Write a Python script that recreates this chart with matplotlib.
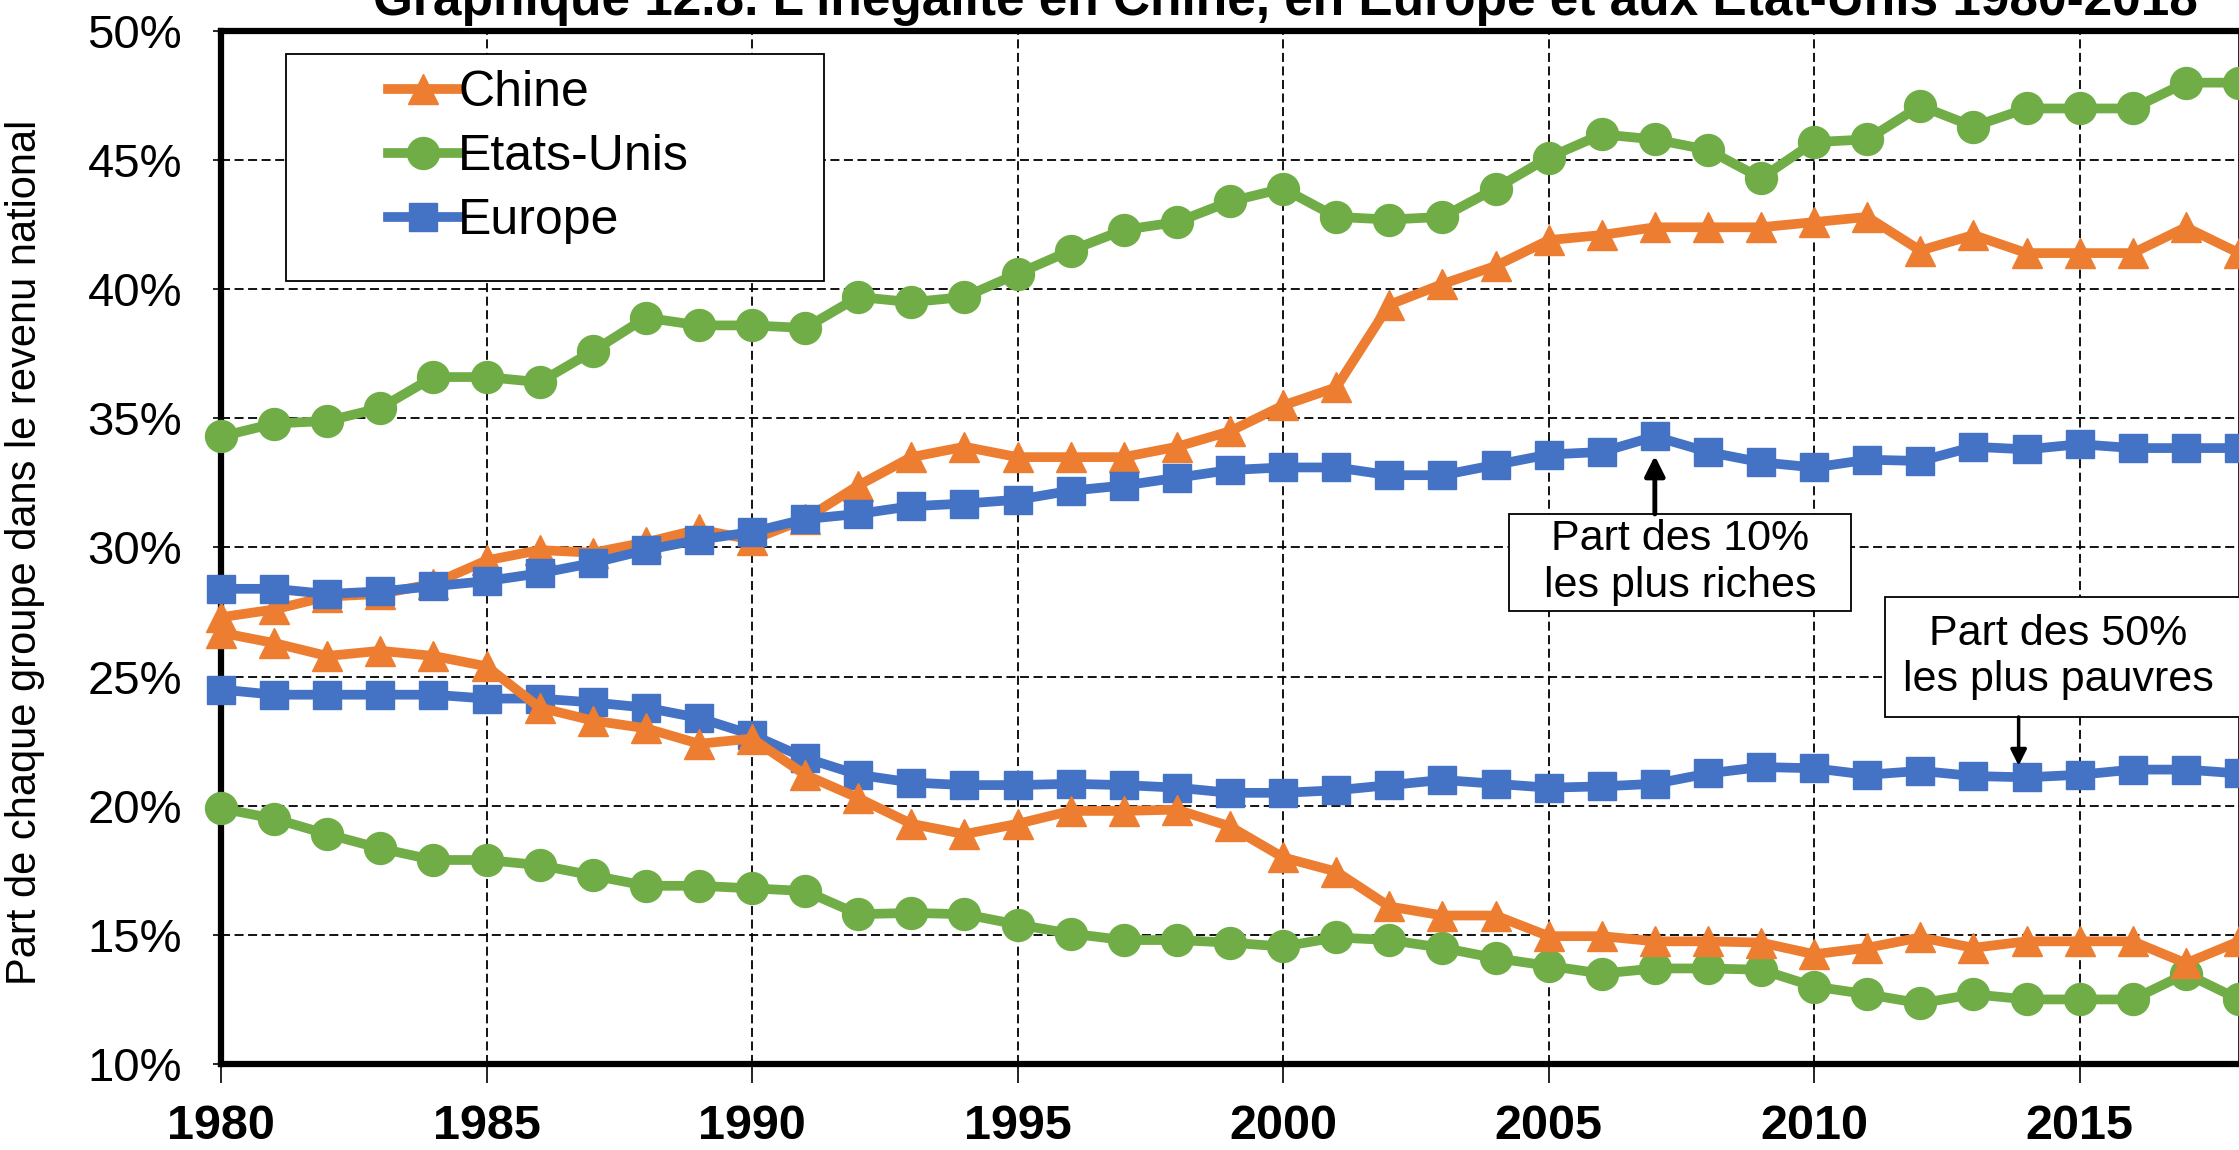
import matplotlib
matplotlib.use("Agg")
import matplotlib.pyplot as plt
import matplotlib.patches as mpatches
from matplotlib.ticker import FuncFormatter, MultipleLocator

plt.rcParams['font.family'] = ['Liberation Sans', 'DejaVu Sans']

# Data (share of national income, %)
years = list(range(1980, 2019))

china_top = [27.3, 27.6, 28.1, 28.2, 28.6, 29.5, 29.9, 29.8, 30.2, 30.7,
             30.3, 31.1, 32.4, 33.5, 33.9, 33.5, 33.5, 33.5, 33.9, 34.5,
             35.5, 36.2, 39.4, 40.2, 40.9, 41.9, 42.1, 42.4, 42.4, 42.4,
             42.6, 42.8, 41.5, 42.1, 41.4, 41.4, 41.4, 42.4, 41.4]
us_top = [34.3, 34.8, 34.9, 35.4, 36.6, 36.6, 36.4, 37.6, 38.9, 38.6,
          38.6, 38.5, 39.7, 39.5, 39.7, 40.6, 41.5, 42.3, 42.6, 43.4,
          43.9, 42.8, 42.7, 42.8, 43.9, 45.1, 46.0, 45.8, 45.4, 44.3,
          45.7, 45.8, 47.1, 46.3, 47.0, 47.0, 47.0, 48.0, 48.0]
europe_top = [28.4, 28.4, 28.2, 28.3, 28.5, 28.7, 29.0, 29.4, 29.9, 30.3,
              30.6, 31.1, 31.3, 31.6, 31.7, 31.85, 32.2, 32.4, 32.7, 33.0,
              33.1, 33.1, 32.8, 32.8, 33.2, 33.6, 33.7, 34.3, 33.7, 33.3,
              33.1, 33.4, 33.35, 33.9, 33.8, 34.0, 33.85, 33.85, 33.85]

china_bottom = [26.7, 26.3, 25.8, 26.0, 25.8, 25.4, 23.8, 23.3, 23.0, 22.4,
                22.6, 21.2, 20.3, 19.3, 18.9, 19.3, 19.8, 19.8, 19.85, 19.2,
                18.0, 17.45, 16.1, 15.75, 15.75, 14.95, 14.95, 14.75, 14.75, 14.7,
                14.25, 14.5, 14.9, 14.5, 14.75, 14.75, 14.75, 13.9, 14.75]
us_bottom = [19.9, 19.5, 18.9, 18.35, 17.9, 17.9, 17.7, 17.3, 16.9, 16.9,
             16.8, 16.7, 15.8, 15.85, 15.8, 15.4, 15.05, 14.8, 14.8, 14.7,
             14.55, 14.9, 14.8, 14.5, 14.1, 13.8, 13.5, 13.7, 13.7, 13.65,
             13.0, 12.7, 12.35, 12.7, 12.5, 12.5, 12.5, 13.5, 12.5]
europe_bottom = [24.5, 24.3, 24.3, 24.3, 24.3, 24.15, 24.15, 24.0, 23.8, 23.4,
                 22.75, 21.85, 21.2, 20.9, 20.8, 20.8, 20.85, 20.8, 20.7, 20.5,
                 20.5, 20.6, 20.8, 21.0, 20.85, 20.7, 20.75, 20.85, 21.25, 21.5,
                 21.45, 21.2, 21.35, 21.15, 21.1, 21.2, 21.4, 21.4, 21.25]

ORANGE = '#ED7D31'
GREEN = '#70AD47'
BLUE = '#4472C4'

fig = plt.figure(figsize=(22.39, 11.5), dpi=100)
ax = fig.add_axes([221 / 2239, 86 / 1150, 2018 / 2239, 1033 / 1150])

lw = 7
ax.plot(years, us_top, '-o', color=GREEN, lw=lw, ms=23, label='Etats-Unis', clip_on=False, zorder=3)
ax.plot(years, us_bottom, '-o', color=GREEN, lw=lw, ms=23, clip_on=False, zorder=3)
ax.plot(years, china_top, '-^', color=ORANGE, lw=lw, ms=22, label='Chine', clip_on=False, zorder=3)
ax.plot(years, europe_top, '-s', color=BLUE, lw=lw, ms=20, label='Europe', clip_on=False, zorder=3)
ax.plot(years, europe_bottom, '-s', color=BLUE, lw=lw, ms=20, clip_on=False, zorder=3)
ax.plot(years, china_bottom, '-^', color=ORANGE, lw=lw, ms=22, clip_on=False, zorder=3)

ax.set_xlim(1980, 2018)
ax.set_ylim(10, 50)
ax.xaxis.set_major_locator(MultipleLocator(5))
ax.yaxis.set_major_locator(MultipleLocator(5))
ax.yaxis.set_major_formatter(FuncFormatter(lambda v, p: f'{v:.0f}%'))

ax.grid(True, color='black', lw=1.3, linestyle=(0, (5, 2.5)))
ax.set_axisbelow(True)

for s in ['left', 'bottom', 'top']:
    ax.spines[s].set_linewidth(4.5)
ax.spines['right'].set_linewidth(1.2)

ax.tick_params(axis='y', labelsize=34, length=6, width=1.2, pad=22)
ax.tick_params(axis='x', labelsize=35, length=14, width=1.2, pad=15)
for t in ax.get_xticklabels():
    t.set_fontweight('bold')

ax.set_ylabel('Part de chaque groupe dans le revenu national', fontsize=30)
ax.yaxis.set_label_coords(-0.087, 0.495)

# legend: separate frame, entries without frame
frame = mpatches.Rectangle((0.032, 0.758), 0.267, 0.22, transform=ax.transAxes,
                           fc='white', ec='black', lw=1.3, zorder=4)
ax.add_patch(frame)
h, l = ax.get_legend_handles_labels()
order = [l.index('Chine'), l.index('Etats-Unis'), l.index('Europe')]
leg = ax.legend([h[i] for i in order], [l[i] for i in order],
                loc='upper left', bbox_to_anchor=(0.0828, 0.962), frameon=False,
                fontsize=36, handlelength=1.4, handletextpad=0.0,
                borderpad=0, borderaxespad=0, labelspacing=0.36)
leg.set_zorder(5)

# annotation boxes
box1 = mpatches.Rectangle((2004.26, 27.55), 6.44, 3.75, fc='white', ec='black', lw=1.3, zorder=6)
box2 = mpatches.Rectangle((2011.34, 23.44), 8.0, 4.65, fc='white', ec='black', lw=1.3, zorder=6)
ax.add_patch(box1)
ax.add_patch(box2)
ax.text(2007.48, 29.42, 'Part des 10%\nles plus riches', ha='center', va='center',
        fontsize=31, linespacing=1.2, zorder=7)
ax.text(2014.6, 25.77, 'Part des 50%\nles plus pauvres', ha='center', va='center',
        fontsize=31, linespacing=1.2, zorder=7)
ax.annotate('', xy=(2007, 33.55), xytext=(2007, 31.3),
            arrowprops=dict(arrowstyle='-|>', lw=3.5, color='black', mutation_scale=30,
                            shrinkA=0, shrinkB=0), zorder=7)
ax.annotate('', xy=(2013.85, 21.55), xytext=(2013.85, 23.44),
            arrowprops=dict(arrowstyle='-|>', lw=2.5, color='black', mutation_scale=24,
                            shrinkA=0, shrinkB=0), zorder=7)

fig.text(0.574, 1 - 15 / 1150,
         "Graphique 12.8. L'inégalité en Chine, en Europe et aux Etat-Unis 1980-2018",
         ha='center', va='baseline', fontsize=37, fontweight='bold')

fig.savefig('out.png', dpi=100)
